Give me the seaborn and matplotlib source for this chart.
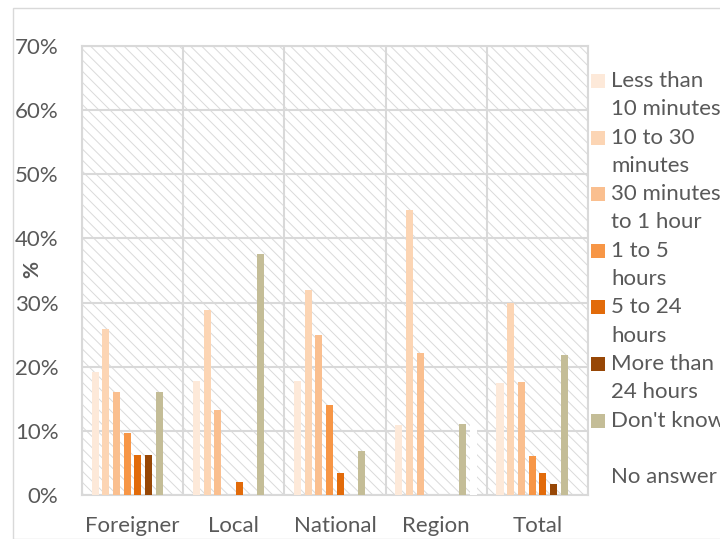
import matplotlib
matplotlib.use("Agg")
import matplotlib.pyplot as plt
from matplotlib.patches import Rectangle
from matplotlib.ticker import FuncFormatter, MultipleLocator
import pandas as pd
import seaborn as sns

# Response time by visitor origin (share of respondents, %)
groups = ["Foreigner", "Local", "National", "Region", "Total"]
series = ["Less than 10 minutes", "10 to 30 minutes", "30 minutes to 1 hour",
          "1 to 5 hours", "5 to 24 hours", "More than 24 hours",
          "Don't know", "No answer"]
legend_labels = ["Less than\n10 minutes", "10 to 30\nminutes", "30 minutes\nto 1 hour",
                 "1 to 5\nhours", "5 to 24\nhours", "More than\n24 hours",
                 "Don't know", "No answer"]

less_10 = [19.2, 17.7, 17.8, 10.9, 17.5]
min_10_30 = [25.9, 28.8, 32.0, 44.4, 30.0]
min_30_1h = [16.0, 13.2, 24.9, 22.1, 17.6]
hours_1_5 = [9.6, 0.0, 14.1, 0.0, 6.1]
hours_5_24 = [6.3, 2.1, 3.5, 0.0, 3.5]
more_24 = [6.3, 0.0, 0.0, 0.0, 1.7]
dont_know = [16.0, 37.6, 6.9, 11.0, 21.9]
no_answer = [0.0, 0.0, 0.0, 11.0, 0.0]

values = [less_10, min_10_30, min_30_1h, hours_1_5, hours_5_24,
          more_24, dont_know, no_answer]
colors = ["#FDE9D9", "#FCD5B4", "#FABF8F", "#F79646", "#E26B0A",
          "#974706", "#C4BD97", "#FFFFFF"]

rows = []
for name, vals in zip(series, values):
    for g, v in zip(groups, vals):
        rows.append({"group": g, "series": name, "value": v})
df = pd.DataFrame(rows)

sns.set_theme(style="white")
plt.rcParams["font.family"] = ["Lato", "DejaVu Sans"]
plt.rcParams["hatch.linewidth"] = 0.7
plt.rcParams["hatch.color"] = "#DADADA"

TEXT = "#595959"
GRID = "#D9D9D9"
W, H = 720, 539

fig = plt.figure(figsize=(7.2, 5.39), dpi=100)
fig.patch.set_facecolor("white")
# outer chart frame
fig.patches.append(Rectangle((13 / W, 0), 1, 1 - 8 / H, transform=fig.transFigure,
                             fill=False, edgecolor=GRID, linewidth=1.0))

ax = fig.add_axes([82 / W, 1 - 495 / H, (588 - 82) / W, (495 - 46) / H])
ax.set_facecolor("white")
# hatched plot-area background
ax.add_patch(Rectangle((0, 0), 1, 1, transform=ax.transAxes, facecolor="white",
                       edgecolor="#DADADA", hatch="\\\\\\", linewidth=0, zorder=0))

sns.barplot(data=df, x="group", y="value", hue="series", order=groups,
            hue_order=series, palette=colors, saturation=1, width=0.845,
            gap=0.34, linewidth=0, legend=False, ax=ax, zorder=3)

ax.set_xlim(-0.5, len(groups) - 0.5)
ax.set_ylim(0, 70)
ax.yaxis.set_major_locator(MultipleLocator(10))
ax.yaxis.set_major_formatter(FuncFormatter(lambda v, _: f"{v:.0f}%"))
ax.set_xticks(range(len(groups)))
ax.set_xticklabels(groups)
ax.set_xticks([i - 0.5 for i in range(len(groups) + 1)], minor=True)

ax.grid(axis="y", which="major", color=GRID, linewidth=1.5, zorder=1)
ax.grid(axis="x", which="minor", color=GRID, linewidth=1.5, zorder=1)
ax.set_axisbelow(True)
for sp in ax.spines.values():
    sp.set_color(GRID)
    sp.set_linewidth(1.5)

ax.tick_params(axis="y", length=0, pad=17, labelsize=16, labelcolor=TEXT)
ax.tick_params(axis="x", which="both", length=0, pad=15, labelsize=16, labelcolor=TEXT)
ax.set_xlabel("")
ax.set_ylabel("")
fig.text(32 / W, 1 - 270 / H, "%", rotation=90, ha="center", va="center",
         fontsize=15, color=TEXT, fontweight="bold")

# legend: one square per series beside its (possibly two-line) label
line_h = 28.3
y0 = 81
for i, (lab, col) in enumerate(zip(legend_labels, colors)):
    yc = y0 + i * 2 * line_h
    fig.patches.append(Rectangle((591 / W, 1 - (yc + 7) / H), 14 / W, 14 / H,
                                 transform=fig.transFigure, facecolor=col,
                                 edgecolor="none"))
    for j, part in enumerate(lab.split("\n")):
        fig.text(611 / W, 1 - (yc + j * line_h) / H, part, ha="left", va="center",
                 fontsize=16, color=TEXT)

fig.savefig("out.png", dpi=100)
